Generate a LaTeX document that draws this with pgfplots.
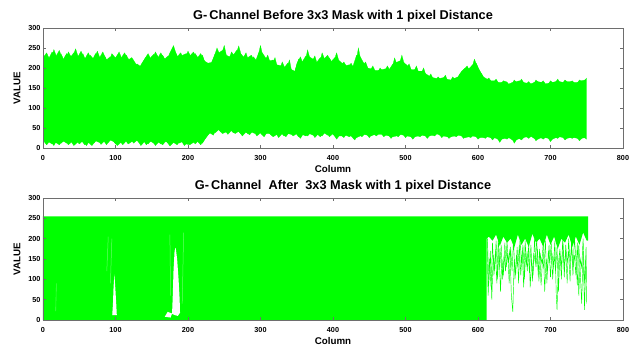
\documentclass[border=0pt]{standalone}
\usepackage{fontspec}
\setmainfont{Liberation Sans}
\usepackage{pgfplots}
\usepackage{pgfplotstable}
\pgfplotsset{compat=1.18}
\usepgfplotslibrary{fillbetween}
\definecolor{mgreen}{RGB}{0,255,0}
\definecolor{frame}{RGB}{110,110,110}

\pgfplotstableread{
x u l
0 225 20
5 238 8
10 218 18
15 246 6
20 222 22
25 235 12
30 215 20
35 240 8
40 224 16
45 248 22
50 220 10
55 236 18
60 214 6
65 232 20
70 222 12
75 242 22
80 218 9
85 230 18
90 212 14
95 236 24
100 225 10
105 240 20
110 218 8
115 232 18
120 215 24
125 205 12
130 210 20
135 203 6
140 222 16
145 236 10
150 218 20
155 240 6
160 224 15
165 232 8
170 216 18
175 238 5
180 256 14
185 228 8
190 238 20
195 220 6
200 242 16
205 225 22
210 236 10
215 222 20
220 232 12
225 205 28
230 200 38
235 222 32
240 250 52
245 228 40
250 256 46
255 215 34
260 240 44
265 228 36
270 255 42
275 222 30
280 238 40
285 210 33
290 228 44
295 218 30
300 256 38
305 215 28
310 232 42
315 205 32
320 226 40
325 190 26
330 215 36
335 195 28
340 220 40
345 172 30
350 210 36
355 228 24
360 205 38
365 245 30
370 212 40
375 230 26
380 200 36
385 238 30
390 215 42
395 225 28
400 210 36
405 238 22
410 205 34
415 215 26
420 200 38
425 212 30
430 195 20
435 250 34
440 205 28
445 215 38
450 190 26
455 205 36
460 185 30
465 200 40
470 188 28
475 205 36
480 190 24
485 225 34
490 200 28
495 232 38
500 198 26
505 210 34
510 185 22
515 205 32
520 180 28
525 200 36
530 172 24
535 185 34
540 165 30
545 178 38
550 168 26
555 182 34
560 160 24
565 178 32
570 168 28
575 185 36
580 195 24
585 205 30
590 188 26
595 222 34
600 200 22
605 185 30
610 168 24
615 175 32
620 162 20
625 172 30
630 158 14
635 168 28
640 165 22
645 152 30
650 170 12
655 160 26
660 172 20
665 158 30
670 166 24
675 155 32
680 170 18
685 160 28
690 168 22
695 155 30
700 168 16
705 160 28
710 172 24
715 158 32
720 170 20
725 162 28
730 168 24
735 158 30
740 170 18
745 165 28
750 175 22
}\topdata

\pgfplotstableread{
x u l
2.5 232 12
7.5 222 16
12.5 240 10
17.5 228 14
22.5 244 8
27.5 220 18
32.5 236 12
37.5 226 20
42.5 238 6
47.5 226 14
52.5 242 20
57.5 222 8
62.5 238 14
67.5 218 6
72.5 236 18
77.5 224 14
82.5 240 22
87.5 220 8
92.5 228 20
97.5 214 16
102.5 232 6
107.5 224 14
112.5 238 22
117.5 220 10
122.5 226 16
127.5 212 22
132.5 200 14
137.5 215 22
142.5 228 8
147.5 224 18
152.5 234 12
157.5 222 18
162.5 238 10
167.5 222 20
172.5 230 12
177.5 226 16
182.5 240 20
187.5 222 12
192.5 232 16
197.5 236 10
202.5 230 8
207.5 240 14
212.5 224 18
217.5 236 8
222.5 218 20
227.5 212 32
232.5 214 44
237.5 236 38
242.5 238 46
247.5 244 36
252.5 232 40
257.5 228 48
262.5 232 38
267.5 245 46
272.5 236 36
277.5 226 44
282.5 226 36
287.5 232 40
292.5 214 36
297.5 238 44
302.5 238 32
307.5 224 36
312.5 218 36
317.5 220 28
322.5 208 34
327.5 206 40
332.5 200 30
337.5 212 36
342.5 196 34
347.5 192 40
352.5 222 28
357.5 215 34
362.5 230 30
367.5 228 36
372.5 222 32
377.5 214 36
382.5 226 28
387.5 222 38
392.5 232 32
397.5 216 38
402.5 226 30
407.5 220 30
412.5 212 30
417.5 206 32
422.5 208 28
427.5 204 34
432.5 232 26
437.5 228 30
442.5 212 34
447.5 200 32
452.5 198 30
457.5 194 34
462.5 194 34
467.5 196 34
472.5 198 32
477.5 196 30
482.5 210 28
487.5 214 30
492.5 218 34
497.5 214 32
502.5 206 30
507.5 196 28
512.5 196 28
517.5 192 30
522.5 192 32
527.5 186 30
532.5 180 30
537.5 176 32
542.5 174 36
547.5 174 32
552.5 176 30
557.5 172 28
562.5 170 28
567.5 174 30
572.5 178 32
577.5 192 30
582.5 200 26
587.5 198 28
592.5 208 30
597.5 212 28
602.5 192 26
607.5 178 26
612.5 172 28
617.5 168 26
622.5 168 26
627.5 164 22
632.5 164 22
637.5 160 24
642.5 160 26
647.5 164 20
652.5 166 20
657.5 168 24
662.5 164 26
667.5 162 28
672.5 160 30
677.5 164 24
682.5 166 22
687.5 164 26
692.5 160 26
697.5 162 24
702.5 164 22
707.5 166 26
712.5 166 28
717.5 164 26
722.5 166 24
727.5 166 26
732.5 164 26
737.5 164 24
742.5 168 24
747.5 170 26
}\topdataB

\pgfplotstableread{
x y
612 240
614 60
616 150
618 80
620 190
622 110
624 170
626 90
628 200
630 130
632 185
634 100
636 160
638 120
640 195
642 140
644 175
646 60
648 20
650 150
652 110
654 180
656 90
658 200
660 140
662 185
664 100
666 170
668 120
670 190
672 80
674 150
676 110
678 200
680 130
682 175
684 95
686 160
688 140
690 190
692 70
694 150
696 120
698 185
700 105
702 165
704 130
706 195
708 60
709 25
711 140
713 175
715 100
717 190
719 130
721 170
723 90
725 200
727 140
729 180
731 110
733 205
735 150
737 85
739 185
741 120
743 40
745 170
747 25
749 180
750 40
}\strandA

\pgfplotstableread{
x y
613 200
615 90
617 170
619 50
621 160
623 120
625 195
627 100
629 175
631 70
633 150
635 110
637 190
639 130
641 165
643 90
645 180
647 120
649 200
651 100
653 160
655 130
657 185
659 110
661 170
663 80
665 195
667 135
669 170
671 115
673 185
675 95
677 165
679 140
681 200
683 110
685 175
687 85
689 150
691 125
693 195
695 90
697 170
699 140
701 190
703 100
705 160
707 120
709 180
711 70
713 165
715 130
717 200
719 105
721 185
723 140
725 170
727 95
729 195
731 130
733 160
735 110
737 190
739 60
741 150
743 130
745 200
747 90
749 160
}\strandB

\pgfplotsset{
  matstyle/.style={
    scale only axis, width=580bp,
    xmin=0, xmax=800, ymin=0, ymax=300,
    xtick={0,100,...,800}, ytick={0,50,...,300},
    axis on top,
    axis line style={frame, line width=0.6pt},
    tick style={frame, line width=0.6pt},
    major tick length=3bp,
    /pgf/number format/assume math mode=true,
    tick label style={font=\fontsize{7.3}{8}\selectfont\bfseries},
    xticklabel style={yshift=-4bp},
    yticklabel style={xshift=1bp},
    label style={font=\fontsize{9.8}{11}\selectfont\bfseries},
    xlabel=Column, ylabel=VALUE,
    xlabel style={yshift=2bp},
    ylabel style={yshift=1bp},
    title style={font=\fontsize{12.8}{14}\selectfont\bfseries, xshift=10bp, yshift=-4bp},
  }
}

\begin{document}
\begin{tikzpicture}

\begin{axis}[matstyle, height=120bp, at={(0,172bp)}, anchor=south west,
  title={G-\,Channel Before 3x3 Mask with 1 pixel Distance}]
  \addplot[name path=U, draw=mgreen, line width=0.25pt] table[x=x,y=u]{\topdata};
  \addplot[name path=L, draw=mgreen, line width=0.25pt] table[x=x,y=l]{\topdata};
  \addplot[mgreen] fill between[of=U and L];
  \addplot[name path=U2, draw=mgreen, line width=0.25pt] table[x=x,y=u]{\topdataB};
  \addplot[name path=L2, draw=mgreen, line width=0.25pt] table[x=x,y=l]{\topdataB};
  \addplot[mgreen] fill between[of=U2 and L2];
\end{axis}

\begin{axis}[matstyle, height=122bp, at={(0,0)}, anchor=south west,
  title={G-\,Channel\ \ After\ \ 3x3 Mask with 1 pixel Distance}]
  \addplot[fill=mgreen, draw=none] coordinates {
    (0,0) (0,255) (752,255) (752,195) (750,195) (745,215) (740,185) (735,205)
    (730,180) (725,210) (720,190) (715,200) (710,175) (705,205) (700,185)
    (695,210) (690,180) (685,200) (680,190) (675,212) (670,180) (665,200)
    (660,185) (655,210) (650,178) (645,200) (640,190) (635,205) (630,182)
    (625,210) (620,195) (615,205) (612,200) (612,0)};
  \addplot[draw=mgreen, line width=0.45pt] table {\strandA};
  \addplot[draw=mgreen, line width=0.45pt] table {\strandB};
  % white gaps
  \addplot[fill=white, draw=none] coordinates {
    (95.5,12) (96.5,40) (97.3,80) (98.5,112) (99.7,80) (101,40) (101.8,12)};
  \addplot[fill=white, draw=none] coordinates {
    (178,15) (179,60) (180,120) (181.5,170) (183,178) (185,150) (187,100)
    (188.5,50) (189,18) (186,10) (182,12)};
  \addplot[fill=white, draw=none] coordinates {
    (168,8) (172,20) (178,16) (176,6)};
  \addplot[draw=white!40!mgreen, line width=0.5pt] coordinates {(88,120) (90,205)};
  \addplot[draw=white!40!mgreen, line width=0.5pt] coordinates {(93,90) (95,200)};
  \addplot[draw=white!40!mgreen, line width=0.5pt] coordinates {(176,60) (175,210)};
  \addplot[draw=white!40!mgreen, line width=0.5pt] coordinates {(192,40) (194,215)};
  \addplot[draw=white!30!mgreen, line width=0.6pt] coordinates {(17.5,22) (18.5,90)};
\end{axis}
\pgfresetboundingbox
\useasboundingbox (-43bp,-27bp) rectangle (588bp,320bp);
\end{tikzpicture}
\end{document}
